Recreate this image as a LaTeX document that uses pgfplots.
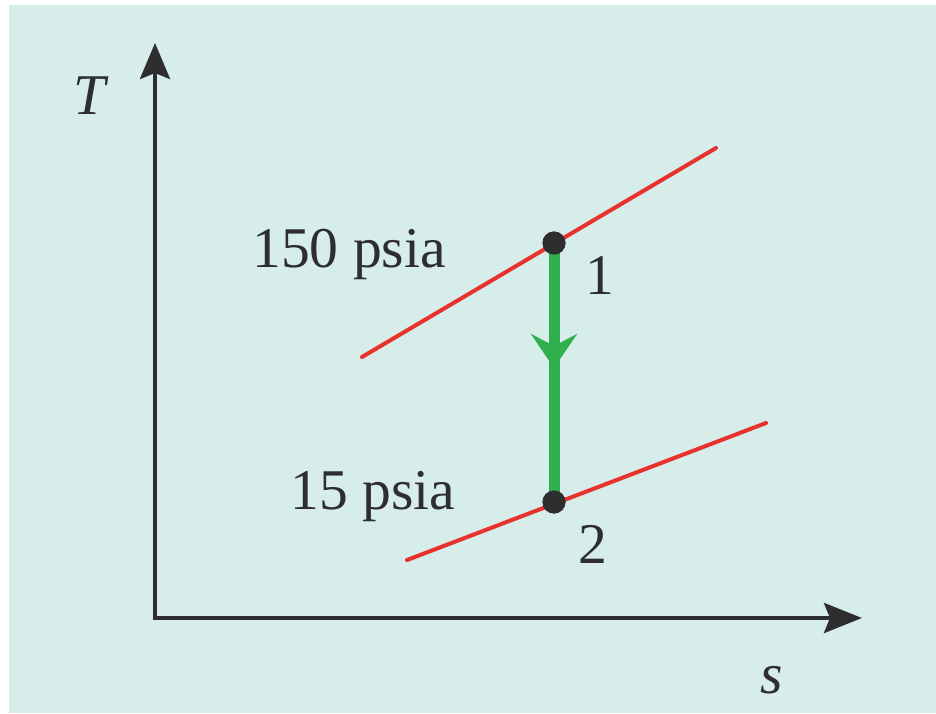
\documentclass[border=0pt]{standalone}
\usepackage{pgfplots}
\pgfplotsset{compat=1.18}
\usepackage{fontspec}
\setmainfont{Liberation Serif}
\usetikzlibrary{arrows.meta}

\definecolor{panel}{HTML}{D7EDEA}
\definecolor{ink}{HTML}{2E2E30}
\definecolor{isobar}{HTML}{E8322E}
\definecolor{process}{HTML}{2FB04C}

\begin{document}
\begin{tikzpicture}
\begin{axis}[
  width=468pt, height=356.5pt, scale only axis,
  xmin=0, xmax=936, ymin=0, ymax=713,
  hide axis, clip=false,
]
% canvas and panel
\fill[white] (axis cs:0,0) rectangle (axis cs:936,713);
\fill[panel] (axis cs:9,0) rectangle (axis cs:936,708);

% T-s axes
\draw[ink, line width=2pt, line join=miter,
  {Stealth[length=18pt, width=15pt, inset=3pt]}-{Stealth[length=19pt, width=15pt, inset=3pt]}]
  (axis cs:155,670) -- (axis cs:155,95) -- (axis cs:862,95);

% isobars
\addplot[isobar, line width=2pt, line cap=round] coordinates {(362,356) (716,565)};
\addplot[isobar, line width=2pt, line cap=round] coordinates {(407,153) (766,290)};

% expansion 1 -> 2
\addplot[process, line width=5.5pt] coordinates {(554,470) (554,211)};
\addplot[process, line width=5.5pt, -{Stealth[length=17pt, width=23pt, inset=6pt]}]
  coordinates {(554,470) (554,345)};

% states
\addplot[only marks, mark=*, mark size=5.6pt, color=ink] coordinates {(554,470) (554,211)};

% labels
\node[anchor=base, ink, font=\fontsize{28.8}{32}\selectfont] at (axis cs:349,445) {150 psia};
\node[anchor=base, ink, font=\fontsize{28.8}{32}\selectfont] at (axis cs:373,204) {15 psia};
\node[anchor=base, ink, font=\fontsize{28.8}{32}\selectfont] at (axis cs:600,418) {1};
\node[anchor=base, ink, font=\fontsize{28.8}{32}\selectfont] at (axis cs:593,150) {2};
\node[anchor=base, ink, font=\fontsize{28.8}{32}\selectfont] at (axis cs:91,598) {\textit{T}};
\node[anchor=base, ink, font=\fontsize{28.8}{32}\selectfont] at (axis cs:772,20) {\textit{s}};
\end{axis}
\end{tikzpicture}
\end{document}
